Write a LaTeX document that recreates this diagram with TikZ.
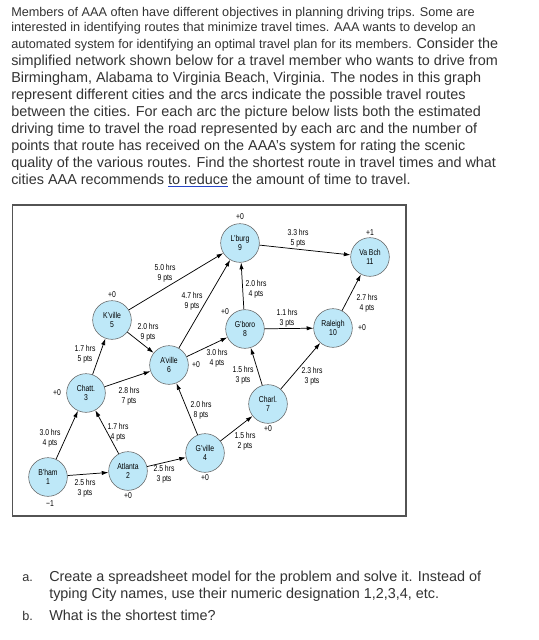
\documentclass[tikz,border=0pt]{standalone}
\usepackage{fontspec}
\setmainfont{Liberation Sans}
\newfontfamily\narrowfont[FakeStretch=0.8]{Liberation Sans}
\usepackage{xcolor}
\usepackage{tikz}
\usetikzlibrary{arrows.meta}
\definecolor{citycyan}{RGB}{190,232,248}
\definecolor{inkgray}{RGB}{51,51,51}
\definecolor{linkblue}{RGB}{40,70,200}
\newcommand{\arcfont}{\narrowfont\fontsize{6.4}{7.2}\selectfont}
\newcommand{\smalltxt}{\fontsize{9.5}{11}\selectfont}
\newcommand{\bigtxt}{\fontsize{10.8}{12.75}\selectfont}

\begin{document}
\begin{tikzpicture}[x=0.75pt, y=-0.75pt, >=Latex,
  city/.style={circle, draw=gray!75!black, fill=citycyan, minimum size=29pt, inner sep=0pt, align=center, font=\arcfont},
  road/.style={-{Latex[length=5pt,width=3.2pt]}, line width=0.55pt},
  cost/.style={align=center, inner sep=0pt, font=\arcfont},
  flow/.style={inner sep=0pt, font=\arcfont},
  txtline/.style={anchor=base west, inner sep=0pt, text=inkgray}]
  \useasboundingbox (0,0) rectangle (539,640);
  \fill[white] (0,0) rectangle (539,640);
  % question text
  \node[txtline, font=\smalltxt] (l1) at (11,16) {Members of AAA often have different objectives in planning driving trips. Some are};
  \node[txtline, font=\smalltxt] (l2) at (11,31) {interested in identifying routes that minimize travel times. AAA wants to develop an};
  \node[txtline] (l3) at (11,48) {{\smalltxt automated system for identifying an optimal travel plan for its members. }{\bigtxt Consider the}};
  \node[txtline, font=\bigtxt] (l4) at (11,65) {simplified network shown below for a travel member who wants to drive from};
  \node[txtline, font=\bigtxt] (l5) at (11,82) {Birmingham, Alabama to Virginia Beach, Virginia. The nodes in this graph};
  \node[txtline, font=\bigtxt] (l6) at (11,99) {represent different cities and the arcs indicate the possible travel routes};
  \node[txtline, font=\bigtxt] (l7) at (11,116) {between the cities. For each arc the picture below lists both the estimated};
  \node[txtline, font=\bigtxt] (l8) at (11,133) {driving time to travel the road represented by each arc and the number of};
  \node[txtline, font=\bigtxt] (l9) at (11,150) {points that route has received on the AAA’s system for rating the scenic};
  \node[txtline, font=\bigtxt] (l10) at (11,167) {quality of the various routes. Find the shortest route in travel times and what};
  \node[txtline, font=\bigtxt] (l11) at (11,184) {cities AAA recommends {\color{linkblue}\underline{\textcolor{inkgray}{to reduce}}} the amount of time to travel.};
  % frame
  \draw[gray!65!black, line width=0.8pt] (12.5,205) rectangle (406,516);
  % cities
  \node[city] (bham) at (48,477) {B’ham\\1};
  \node[city] (atl) at (128,471) {Atlanta\\2};
  \node[city] (chatt) at (86,393) {Chatt.\\3};
  \node[city] (gville) at (205,453) {G’ville\\4};
  \node[city] (kville) at (112,320) {K’ville\\5};
  \node[city] (aville) at (169,365) {A’ville\\6};
  \node[city] (charl) at (268,404) {Charl.\\7};
  \node[city] (gboro) at (245,329) {G’boro\\8};
  \node[city] (lburg) at (240,243) {L’burg\\9};
  \node[city] (raleigh) at (333,328) {Raleigh\\10};
  \node[city] (vabch) at (370,257) {Va Bch\\11};
  % roads
  \draw[road] (bham) -- (atl);
  \draw[road] (bham) -- (chatt);
  \draw[road] (atl) -- (chatt);
  \draw[road] (atl) -- (gville);
  \draw[road] (chatt) -- (kville);
  \draw[road] (chatt) -- (aville);
  \draw[road] (kville) -- (aville);
  \draw[road] (kville) -- (lburg);
  \draw[road] (aville) -- (lburg);
  \draw[road] (aville) -- (gboro);
  \draw[road] (gville) -- (aville);
  \draw[road] (gville) -- (charl);
  \draw[road] (charl) -- (gboro);
  \draw[road] (charl) -- (raleigh);
  \draw[road] (gboro) -- (lburg);
  \draw[road] (gboro) -- (raleigh);
  \draw[road] (lburg) -- (vabch);
  \draw[road] (raleigh) -- (vabch);
  % hours and points
  \node[cost] (c12) at (85,488) {2.5 hrs\\3 pts};
  \node[cost] (c13) at (50,438) {3.0 hrs\\4 pts};
  \node[cost] (c23) at (118,432) {1.7 hrs\\4 pts};
  \node[cost] (c24) at (164,474) {2.5 hrs\\3 pts};
  \node[cost] (c35) at (85,354) {1.7 hrs\\5 pts};
  \node[cost] (c36) at (129,396) {2.8 hrs\\7 pts};
  \node[cost] (c56) at (148,332) {2.0 hrs\\9 pts};
  \node[cost] (c59) at (165,273) {5.0 hrs\\9 pts};
  \node[cost] (c69) at (192,301) {4.7 hrs\\9 pts};
  \node[cost] (c68) at (217,358) {3.0 hrs\\4 pts};
  \node[cost] (c46) at (201,410) {2.0 hrs\\8 pts};
  \node[cost] (c47) at (245,441) {1.5 hrs\\2 pts};
  \node[cost] (c78) at (243,375) {1.5 hrs\\3 pts};
  \node[cost] (c710) at (312,376) {2.3 hrs\\3 pts};
  \node[cost] (c89) at (256,289) {2.0 hrs\\4 pts};
  \node[cost] (c810) at (287,318) {1.1 hrs\\3 pts};
  \node[cost] (c911) at (298,238) {3.3 hrs\\5 pts};
  \node[cost] (c1011) at (367,303) {2.7 hrs\\4 pts};
  % net flows
  \node[flow] (f1) at (50,504) {−1};
  \node[flow] (f2) at (128,496) {+0};
  \node[flow] (f3) at (57,393) {+0};
  \node[flow] (f4) at (205,478) {+0};
  \node[flow] (f5) at (112,295) {+0};
  \node[flow] (f6) at (196,365) {+0};
  \node[flow] (f7) at (268,429) {+0};
  \node[flow] (f8) at (225,312) {+0};
  \node[flow] (f9) at (240,217) {+0};
  \node[flow] (f10) at (362,328) {+0};
  \node[flow] (f11) at (370,233) {+1};
  % questions
  \node[txtline, font=\smalltxt] (qa) at (22,581) {a.};
  \node[txtline, font=\bigtxt] (qa1) at (49,581) {Create a spreadsheet model for the problem and solve it. Instead of};
  \node[txtline, font=\bigtxt] (qa2) at (49,598) {typing City names, use their numeric designation 1,2,3,4, etc.};
  \node[txtline, font=\smalltxt] (qb) at (22,620) {b.};
  \node[txtline, font=\bigtxt] (qb1) at (49,620) {What is the shortest time?};
\end{tikzpicture}
\end{document}
